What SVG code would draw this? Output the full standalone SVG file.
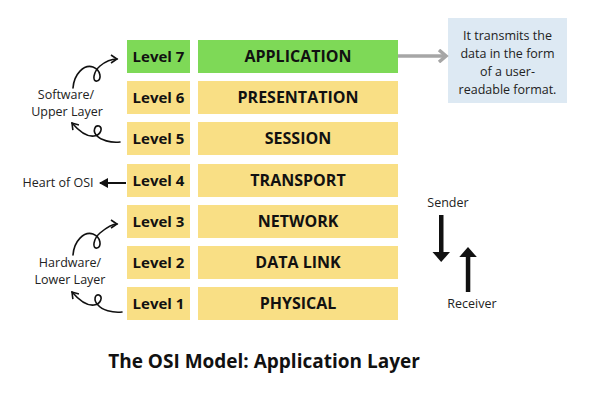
<svg xmlns="http://www.w3.org/2000/svg" width="600" height="400" viewBox="0 0 600 400">
<style>
.lv{fill:#f9df85}
.g{fill:#7ed957}
.t{font-family:"Open Sans","Liberation Sans",sans-serif;font-weight:bold;font-size:15px;fill:#111;text-anchor:middle}
.n{font-family:"Open Sans","Liberation Sans",sans-serif;font-weight:bold;font-size:16px;fill:#111;text-anchor:middle}
.s{font-family:"Open Sans","Liberation Sans",sans-serif;font-size:12.5px;fill:#222;text-anchor:middle}
.c{fill:none;stroke:#111;stroke-width:1.6;stroke-linecap:round}
</style>
<defs>
<marker id="ah" markerWidth="10" markerHeight="10" refX="7" refY="5" orient="auto" markerUnits="userSpaceOnUse"><path d="M1,1 L7,5 L1,9" fill="none" stroke="#111" stroke-width="1.6"/></marker>
<marker id="bh" markerWidth="10" markerHeight="10" refX="8" refY="5" orient="auto" markerUnits="userSpaceOnUse"><path d="M0,0 L9,5 L0,10 Z" fill="#111"/></marker>
<marker id="gh" markerWidth="12" markerHeight="14" refX="9" refY="7" orient="auto" markerUnits="userSpaceOnUse"><path d="M2,1 L9,7 L2,13" fill="none" stroke="#a6a6a6" stroke-width="3.5"/></marker>
</defs>
<rect width="600" height="400" fill="#fff"/>
<g id="l7"><rect class="g" x="127" y="40" width="63" height="33"/><text class="t" x="158.5" y="62">Level 7</text><rect class="g" x="198" y="40" width="200" height="33"/><text class="n" x="298" y="62">APPLICATION</text></g>
<g id="l6"><rect class="lv" x="127" y="81" width="63" height="33"/><text class="t" x="158.5" y="103">Level 6</text><rect class="lv" x="198" y="81" width="200" height="33"/><text class="n" x="298" y="103">PRESENTATION</text></g>
<g id="l5"><rect class="lv" x="127" y="122" width="63" height="33"/><text class="t" x="158.5" y="144">Level 5</text><rect class="lv" x="198" y="122" width="200" height="33"/><text class="n" x="298" y="144">SESSION</text></g>
<g id="l4"><rect class="lv" x="127" y="164" width="63" height="33"/><text class="t" x="158.5" y="186">Level 4</text><rect class="lv" x="198" y="164" width="200" height="33"/><text class="n" x="298" y="186">TRANSPORT</text></g>
<g id="l3"><rect class="lv" x="127" y="205" width="63" height="33"/><text class="t" x="158.5" y="227">Level 3</text><rect class="lv" x="198" y="205" width="200" height="33"/><text class="n" x="298" y="227">NETWORK</text></g>
<g id="l2"><rect class="lv" x="127" y="246" width="63" height="33"/><text class="t" x="158.5" y="268">Level 2</text><rect class="lv" x="198" y="246" width="200" height="33"/><text class="n" x="298" y="268">DATA LINK</text></g>
<g id="l1"><rect class="lv" x="127" y="287" width="63" height="33"/><text class="t" x="158.5" y="309">Level 1</text><rect class="lv" x="198" y="287" width="200" height="33"/><text class="n" x="298" y="309">PHYSICAL</text></g>
<g id="info"><rect x="448" y="18" width="119" height="85" fill="#dde9f3"/>
<text class="s" x="507.5" y="40">It transmits the</text>
<text class="s" x="507.5" y="58">data in the form</text>
<text class="s" x="507.5" y="76">of a user-</text>
<text class="s" x="507.5" y="94">readable format.</text></g>
<g id="soft"><text class="s" x="66" y="99">Software/</text><text class="s" x="67" y="115.5">Upper Layer</text></g>
<g id="heart"><text class="s" x="58" y="187">Heart of OSI</text></g>
<g id="hard"><text class="s" x="70" y="267">Hardware/</text><text class="s" x="70" y="283.5">Lower Layer</text></g>
<g id="sender"><text class="s" x="448" y="207">Sender</text></g>
<g id="receiver"><text class="s" x="472" y="308">Receiver</text></g>
<g id="connectors">
<line x1="398" y1="56" x2="446" y2="56" stroke="#a6a6a6" stroke-width="3.5" marker-end="url(#gh)"/>
<line x1="126" y1="183" x2="100" y2="183" stroke="#111" stroke-width="2" marker-end="url(#bh)"/>
<rect x="439" y="215" width="4.5" height="38" fill="#111"/>
<path d="M432.5,252 L450,252 L441.2,262 Z" fill="#111"/>
<rect x="465.8" y="256" width="4.5" height="36" fill="#111"/>
<path d="M459.3,257 L476.8,257 L468,247 Z" fill="#111"/>
<path class="c" d="M73,88 C74,74 84,64 93,67 C101,70 102,80 97,81 C92,82 93,72 100,66 C106,61 112,59 117,59" marker-end="url(#ah)"/>
<path class="c" d="M120,142 C110,143 101,140 97,136 C92,131 95,125 99,126 C103,128 101,135 94,136 C86,137 78,130 72,123" marker-end="url(#ah)"/>
<path class="c" d="M73,255 C74,241 84,231 93,234 C101,237 102,247 97,248 C92,249 93,239 100,233 C106,228 112,224 117,224" marker-end="url(#ah)"/>
<path class="c" d="M122,312 C112,313 102,310 98,305 C93,300 95,294 99,295 C103,297 101,304 94,305 C86,306 78,299 72,292" marker-end="url(#ah)"/>
</g>
<text x="264" y="368" font-family="'Open Sans','Liberation Sans',sans-serif" font-weight="bold" font-size="19" fill="#111" text-anchor="middle">The OSI Model: Application Layer</text>
</svg>
